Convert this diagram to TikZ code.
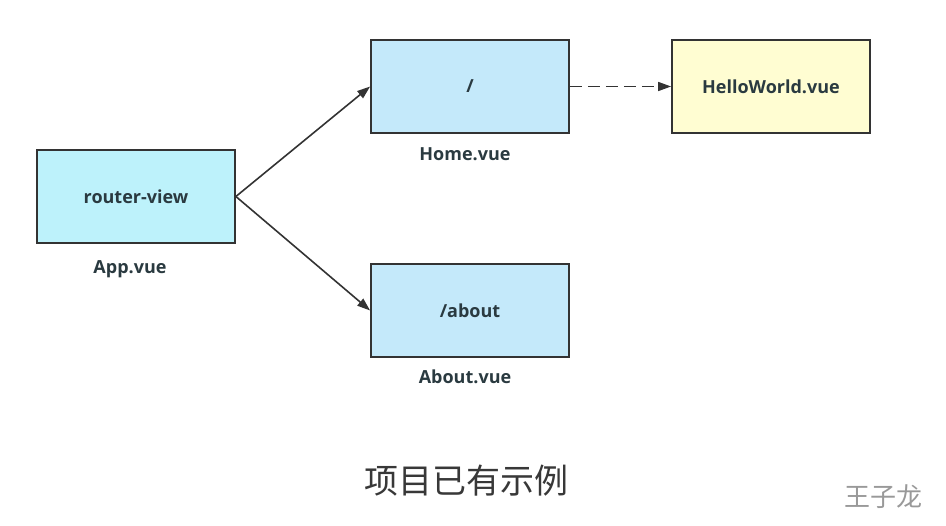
\documentclass[tikz,border=0pt]{standalone}
\usepackage{fontspec}
\setmainfont{Open Sans}
\newfontfamily\cjk{Noto Sans CJK SC}
\usetikzlibrary{arrows.meta}
\definecolor{cyanfill}{HTML}{BDF2FB}
\definecolor{bluefill}{HTML}{C4E9FA}
\definecolor{yelfill}{HTML}{FFFDD2}
\definecolor{txt}{HTML}{2A3A40}
\definecolor{edge}{HTML}{333333}
\begin{document}
\begin{tikzpicture}[x=1pt,y=-1pt,
  box/.style={draw=edge,line width=1.8pt,minimum width=198pt,minimum height=93pt,inner sep=0pt,font=\fontsize{18}{20}\selectfont\bfseries,text=txt},
  lbl/.style={font=\fontsize{18}{20}\selectfont\bfseries,text=txt},
  conn/.style={draw=edge,line width=1.6pt,-{Triangle[length=13pt,width=9pt]}}]
\useasboundingbox (0,0) rectangle (946,526);
\node[box,fill=cyanfill] (rv) at (136,196.5) {router-view};
\node[box,fill=bluefill] (home) at (470,86.5) {/};
\node[box,fill=yelfill] (hw) at (771,86.5) {HelloWorld.vue};
\node[box,fill=bluefill] (about) at (470,310.5) {/about};
\node[lbl] (applbl) at (130,269) {App.vue};
\node[lbl] (homelbl) at (465,154) {Home.vue};
\node[lbl] (aboutlbl) at (465,377) {About.vue};
\draw[conn] (rv.east) -- (home.west);
\draw[conn] (rv.east) -- (about.west);
\draw[conn,dash pattern=on 12pt off 6pt] (home.east) -- (hw.west);
\node[font=\cjk\fontsize{34}{38}\selectfont,text=black!78] (title) at (466,481) {项目已有示例};
\node[font=\cjk\fontsize{26}{30}\selectfont,text=black!40] (wm) at (883,497) {王子龙};
\end{tikzpicture}
\end{document}
